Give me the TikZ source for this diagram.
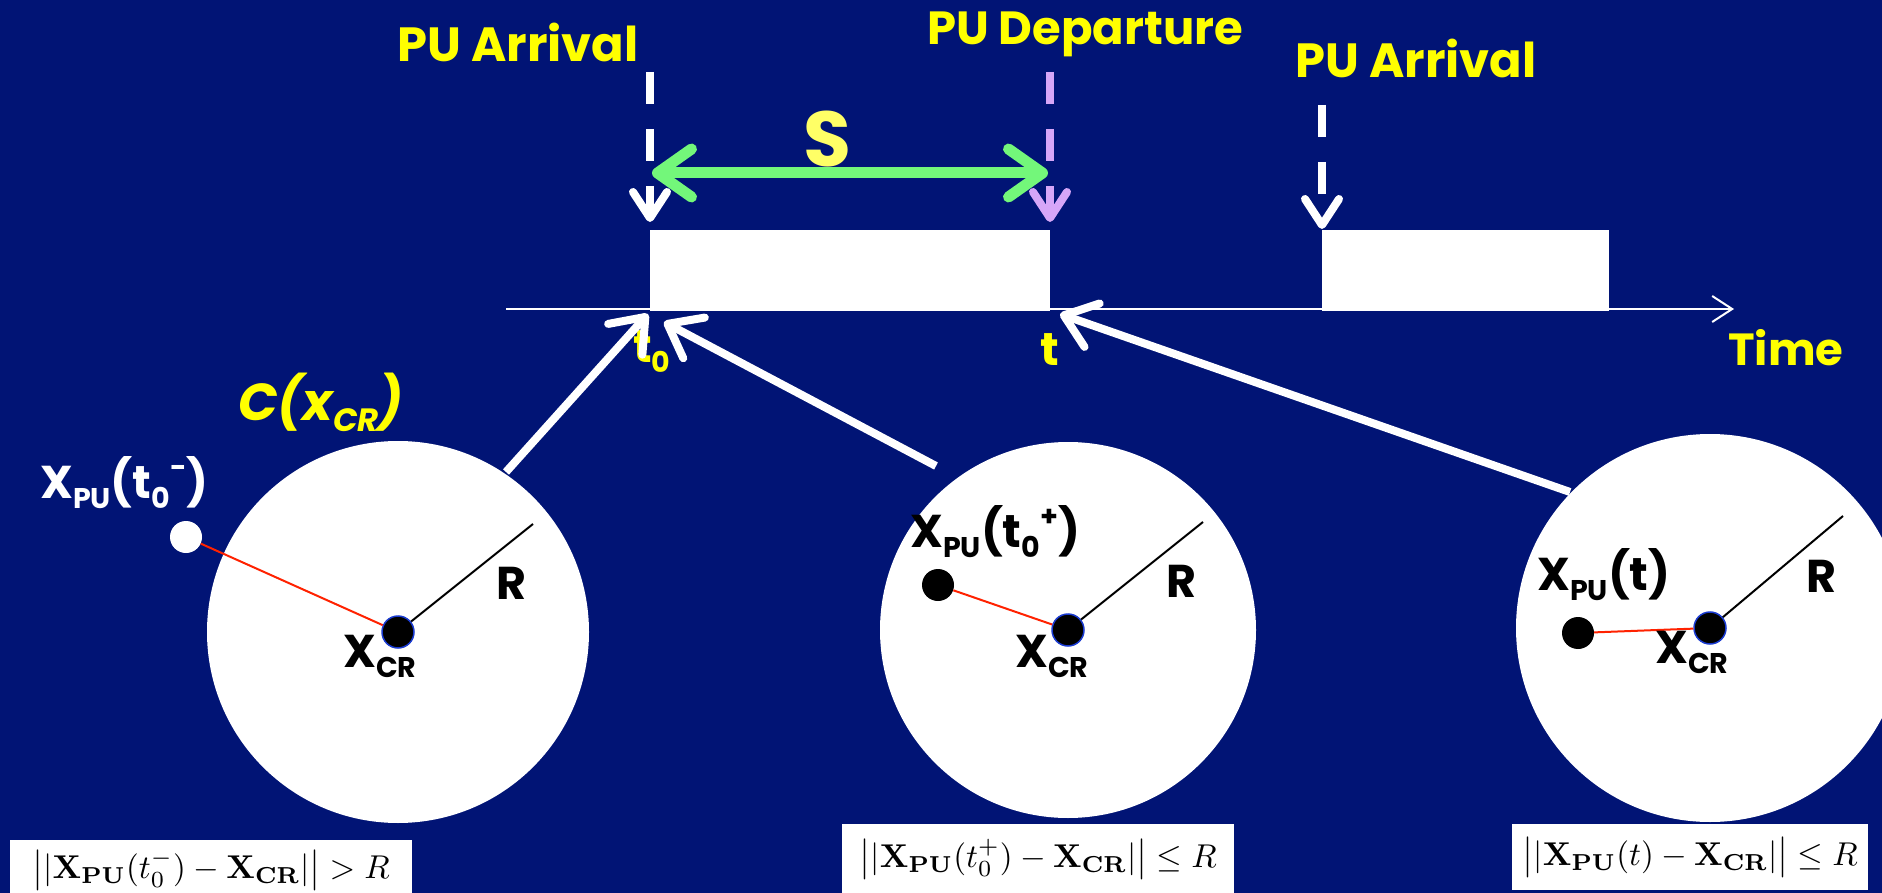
\documentclass[tikz,border=0pt]{standalone}
\usepackage[no-math]{fontspec}
\usetikzlibrary{arrows.meta}
\newfontfamily\lab{Poppins}
\definecolor{bg}{HTML}{011475}
\definecolor{ylw}{HTML}{FFFF00}
\definecolor{sylw}{HTML}{FFFF66}
\definecolor{grn}{HTML}{73F77A}
\definecolor{lila}{HTML}{D6A6F8}
\definecolor{xblue}{HTML}{1A3BD0}
\definecolor{redl}{HTML}{FF2200}
\newcommand{\lsub}[1]{\raisebox{-0.22em}{\fontsize{0.62em}{0.7em}\selectfont #1}}
\newcommand{\lsup}[1]{\raisebox{0.45em}{\fontsize{0.62em}{0.7em}\selectfont #1}}
\begin{document}
\begin{tikzpicture}[x=1pt,y=-1pt,
  txt/.style={inner sep=0pt, anchor=base west},
  ylab/.style={txt, text=ylw, font=\lab\bfseries\fontsize{48}{52}\selectfont},
  wlab/.style={txt, text=white, font=\lab\bfseries\fontsize{46}{50}\selectfont},
  blab/.style={txt, text=black, font=\lab\bfseries\fontsize{46}{50}\selectfont},
  crdot/.style={circle, fill=black, draw=xblue, line width=1.5pt, inner sep=0pt, minimum size=32pt},
  pudot/.style={circle, fill=#1, inner sep=0pt, minimum size=32pt},
  redline/.style={draw=redl, line width=2pt},
  radline/.style={draw=black, line width=2pt},
  dasharr/.style={draw=#1, line width=8pt, dash pattern=on 32pt off 25pt,
     -{Straight Barb[length=26pt, width=34pt, round]}},
  bigarr/.style={draw=white, line width=8pt,
     -{Straight Barb[length=30pt, width=46pt, round]}},
  block/.style={fill=white, inner sep=0pt, anchor=north west},
  formula/.style={fill=white, inner ysep=0pt, inner xsep=4pt, anchor=north west, align=center}
]
\useasboundingbox (0,0) rectangle (1882,893);
\fill[bg] (0,0) rectangle (1882,893);
\clip (0,0) rectangle (1882,893);

% time axis
\coordinate (ax0) at (506,309);
\coordinate (ax1) at (1734,309);
\draw[white, line width=2pt, -{Straight Barb[length=20pt, width=26pt]}] (ax0) -- (ax1);

% occupancy blocks
\node[block, minimum width=400pt, minimum height=81pt] (blk1) at (650,230) {};
\node[block, minimum width=287pt, minimum height=81pt] (blk2) at (1322,230) {};

% top labels
\node[ylab] (arr1) at (397,62) {PU Arrival};
\node[ylab, font=\lab\bfseries\fontsize{46.5}{50}\selectfont] (dep) at (927,45) {PU Departure};
\node[ylab] (arr2) at (1295,78) {PU Arrival};
\node[ylab, font=\lab\bfseries\fontsize{45}{50}\selectfont] (time) at (1728,365) {Time};
\node[txt, text=sylw, font=\lab\bfseries\fontsize{78}{80}\selectfont] (S) at (803,167) {S};
\node[txt, text=ylw, font=\lab\bfseries\fontsize{46}{48}\selectfont] (t0) at (633,362) {t\lsub{0}};
\node[txt, text=ylw, font=\lab\bfseries\fontsize{46}{48}\selectfont] (t1) at (1040,365) {t};
\node[txt, text=ylw, font=\lab\bfseries\itshape\fontsize{52}{56}\selectfont] (cx) at (238,420) {C(x\lsub{CR})};

% dashed event arrows
\coordinate (d1s) at (650,72);  \coordinate (d1e) at (650,222);
\coordinate (d2s) at (1050,72); \coordinate (d2e) at (1050,222);
\coordinate (d3s) at (1322,105); \coordinate (d3e) at (1322,229);
\draw[dasharr=white] (d1s) -- (d1e);
\draw[dasharr=lila] (d2s) -- (d2e);
\draw[dasharr=white] (d3s) -- (d3e);

% S duration arrow
\coordinate (g1) at (652,173);
\coordinate (g2) at (1048,173);
\draw[grn, line width=11pt, {Straight Barb[length=34pt, width=48pt, round]}-{Straight Barb[length=34pt, width=48pt, round]}] (g1) -- (g2);

% disks
\coordinate (c1) at (398,632);
\coordinate (c2) at (1068,630);
\coordinate (c3) at (1710,628);
\fill[white] (c1) circle[radius=191];
\fill[white] (c2) circle[radius=188];
\fill[white] (c3) circle[radius=194];

% arrows from disks to the time axis
\coordinate (a1s) at (506,472); \coordinate (a1e) at (648,314);
\coordinate (a2s) at (936,466); \coordinate (a2e) at (664,322);
\coordinate (a3s) at (1570,492); \coordinate (a3e) at (1060,314);
\draw[bigarr] (a1s) -- (a1e);
\draw[bigarr] (a2s) -- (a2e);
\draw[bigarr] (a3s) -- (a3e);

% disk 1
\node[crdot] (x1) at (c1) {};
\node[pudot=white] (p1) at (186,537) {};
\coordinate (r1) at (533,524);
\draw[redline] (p1) -- (x1);
\draw[radline] (x1) -- (r1);
\node[wlab] (lp1) at (40,498) {X\lsub{PU}(t\lsub{0}\lsup{-})};
\node[blab] (lx1) at (343,667) {X\lsub{CR}};
\node[blab] (lr1) at (496,599) {R};

% disk 2
\node[crdot] (x2) at (c2) {};
\node[pudot=black] (p2) at (938,585) {};
\coordinate (r2) at (1203,522);
\draw[redline] (p2) -- (x2);
\draw[radline] (x2) -- (r2);
\node[blab] (lp2) at (910,547) {X\lsub{PU}(t\lsub{0}\lsup{+})};
\node[blab] (lx2) at (1015,667) {X\lsub{CR}};
\node[blab] (lr2) at (1166,597) {R};

% disk 3
\node[crdot] (x3) at (c3) {};
\node[pudot=black] (p3) at (1578,633) {};
\coordinate (r3) at (1843,516);
\draw[redline] (p3) -- (x3);
\draw[radline] (x3) -- (r3);
\node[blab] (lp3) at (1537,590) {X\lsub{PU}(t)};
\node[blab] (lx3) at (1655,663) {X\lsub{CR}};
\node[blab] (lr3) at (1806,592) {R};

% formula boxes
\node[formula, minimum width=402pt, minimum height=60pt, text width=394pt] (f1) at (10,840)
  {\scalebox{3.3}{$\big||\mathbf{X}_{\mathbf{PU}}(t_0^-)-\mathbf{X}_{\mathbf{CR}}|\big|>R$}};
\node[formula, minimum width=392pt, minimum height=70pt, text width=384pt] (f2) at (842,824)
  {\scalebox{3.3}{$\big||\mathbf{X}_{\mathbf{PU}}(t_0^+)-\mathbf{X}_{\mathbf{CR}}|\big|\le R$}};
\node[formula, minimum width=356pt, minimum height=66pt, text width=348pt] (f3) at (1512,824)
  {\scalebox{3.3}{$\big||\mathbf{X}_{\mathbf{PU}}(t)-\mathbf{X}_{\mathbf{CR}}|\big|\le R$}};
\end{tikzpicture}
\end{document}
